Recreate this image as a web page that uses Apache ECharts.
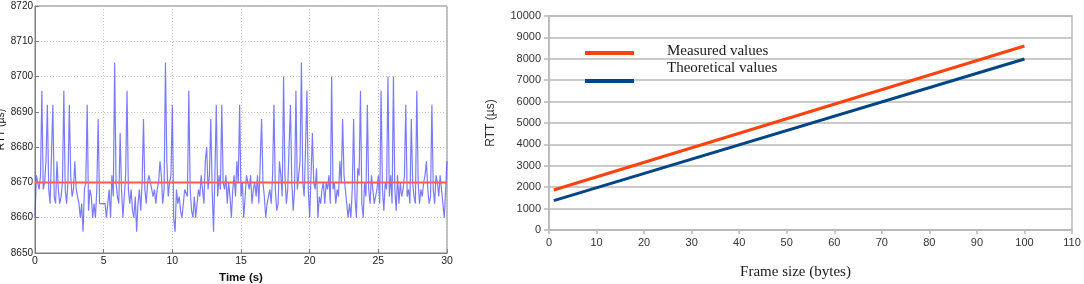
<!DOCTYPE html>
<html><head><meta charset="utf-8">
<script src="https://cdn.jsdelivr.net/npm/echarts@6/dist/echarts.min.js"></script>
<style>html,body{margin:0;padding:0;background:#fff}#c{width:1084px;height:284px}</style>
</head><body><div id="c"></div>
<script>
// ---- Left chart data: RTT samples every 0.1 s over 30 s ----
const sampleStep = 0.1;
const rttSamples = [
  8660,8672,8670,8668,8672,8696,8668,8670,8676,8692,
  8668,8664,8678,8692,8666,8664,8676,8668,8664,8666,
  8670,8696,8668,8664,8670,8692,8672,8666,8668,8676,
  8668,8666,8664,8660,8664,8656,8668,8670,8692,8662,
  8668,8666,8660,8664,8660,8668,8688,8664,8664,8664,
  8664,8664,8660,8664,8668,8660,8672,8666,8704,8670,
  8666,8664,8684,8668,8660,8666,8672,8696,8668,8664,
  8668,8662,8660,8666,8656,8664,8668,8662,8670,8688,
  8668,8664,8670,8672,8672,8668,8666,8668,8664,8668,
  8670,8676,8672,8664,8668,8704,8676,8666,8670,8672,
  8692,8660,8656,8668,8664,8666,8662,8660,8664,8668,
  8668,8666,8696,8668,8662,8660,8666,8660,8664,8668,
  8666,8672,8668,8664,8676,8680,8668,8672,8688,8668,
  8656,8672,8692,8666,8672,8668,8692,8670,8668,8672,
  8664,8670,8666,8660,8668,8672,8666,8676,8670,8692,
  8666,8670,8660,8666,8672,8670,8668,8672,8664,8668,
  8670,8666,8672,8664,8676,8688,8670,8666,8660,8664,
  8666,8668,8664,8672,8692,8668,8662,8664,8676,8672,
  8666,8700,8672,8664,8668,8680,8692,8670,8662,8668,
  8696,8668,8672,8676,8704,8670,8666,8680,8696,8668,
  8660,8672,8684,8670,8668,8674,8660,8666,8664,8668,
  8670,8664,8670,8668,8672,8664,8700,8668,8670,8664,
  8668,8666,8676,8670,8688,8672,8668,8664,8660,8664,
  8660,8668,8688,8666,8660,8674,8672,8696,8664,8660,
  8670,8666,8692,8668,8664,8672,8668,8664,8666,8668,
  8672,8664,8696,8668,8662,8670,8668,8700,8666,8672,
  8664,8700,8668,8662,8672,8664,8670,8666,8668,8672,
  8692,8666,8668,8664,8688,8670,8666,8664,8696,8670,
  8664,8668,8666,8670,8672,8676,8668,8664,8666,8692,
  8668,8664,8672,8670,8666,8672,8668,8664,8660,8660,
  8676
];
const meanRtt = 8670;
const timeRange = [0, 30];

// ---- Right chart data ----
const frameSizes = [1, 100];
const measuredValues = [1870, 8600];
const theoreticalValues = [1370, 7990];
const seriesNames = ['Measured values', 'Theoretical values'];

const rttPoints = rttSamples.map((v, i) => [+(i * sampleStep).toFixed(1), v]);
const meanPoints = timeRange.map(t => [t, meanRtt]);
const measuredPoints = frameSizes.map((x, i) => [x, measuredValues[i]]);
const theoreticalPoints = frameSizes.map((x, i) => [x, theoreticalValues[i]]);

const chart = echarts.init(document.getElementById('c'), null, {renderer: 'canvas'});
const sans = 'Liberation Sans, Arial, sans-serif';
const serif = 'Liberation Serif, DejaVu Serif, serif';
const plain = v => String(v);

chart.setOption({
  animation: false,
  backgroundColor: '#fff',
  grid: [
    {left: 35, right: 637, top: 6, bottom: 31, show: true, borderColor: '#7f7f7f', borderWidth: 1,
     backgroundColor: 'transparent', containLabel: false, outerBoundsMode: 'none'},
    {left: 549, right: 12, top: 16, bottom: 54, show: true, borderColor: '#b8b8b8', borderWidth: 1.5,
     backgroundColor: 'transparent', containLabel: false, outerBoundsMode: 'none'}
  ],
  legend: [
    // line samples only
    {data: seriesNames, left: 580, top: 46, orient: 'vertical', icon: 'rect', itemWidth: 49, itemHeight: 4,
     itemGap: 24, formatter: () => '', textStyle: {fontSize: 1, lineHeight: 1}},
    // texts only
    {data: seriesNames, left: 657, top: 38, orient: 'vertical', icon: 'none', itemWidth: 0, itemHeight: 4,
     itemGap: 0, textStyle: {fontFamily: serif, fontSize: 15, lineHeight: 17, color: '#1a1a1a'}}
  ],
  xAxis: [
    {gridIndex: 0, type: 'value', min: 0, max: 30, interval: 5,
     name: 'Time (s)', nameLocation: 'middle', nameGap: 15,
     nameTextStyle: {fontFamily: sans, fontSize: 11.5, color: '#111', fontWeight: 'bold'},
     axisLine: {lineStyle: {color: '#7f7f7f'}},
     axisTick: {inside: true, length: 4, lineStyle: {color: '#7f7f7f'}},
     axisLabel: {fontFamily: sans, fontSize: 10.5, color: '#222', margin: 3, formatter: plain},
     splitLine: {show: true, lineStyle: {color: '#c8c8c8', type: [1, 2], width: 1}}},
    {gridIndex: 1, type: 'value', min: 0, max: 110, interval: 10,
     name: 'Frame size (bytes)', nameLocation: 'middle', nameGap: 35,
     nameTextStyle: {fontFamily: serif, fontSize: 15, color: '#1a1a1a', padding: [0, 30, 0, 0]},
     axisLine: {lineStyle: {color: '#b8b8b8', width: 1.5}},
     axisTick: {show: true, length: 4, lineStyle: {color: '#b8b8b8', width: 1.5}},
     axisLabel: {fontFamily: sans, fontSize: 11, color: '#333', margin: 7, formatter: plain},
     splitLine: {show: false}}
  ],
  yAxis: [
    {gridIndex: 0, type: 'value', min: 8650, max: 8720, interval: 10,
     name: 'RTT (µs)', nameLocation: 'middle', nameGap: 28,
     nameTextStyle: {fontFamily: sans, fontSize: 10.5, color: '#111'},
     axisLine: {show: true, lineStyle: {color: '#7f7f7f'}},
     axisTick: {show: true, inside: true, length: 4, lineStyle: {color: '#7f7f7f'}},
     axisLabel: {fontFamily: sans, fontSize: 10, color: '#222', margin: 2, formatter: plain},
     splitLine: {show: true, lineStyle: {color: '#c8c8c8', type: [1, 2], width: 1}}},
    {gridIndex: 1, type: 'value', min: 0, max: 10000, interval: 1000,
     name: 'RTT (µs)', nameLocation: 'middle', nameGap: 52,
     nameTextStyle: {fontFamily: sans, fontSize: 12, color: '#333'},
     axisLine: {show: true, lineStyle: {color: '#b8b8b8', width: 1.5}},
     axisTick: {show: true, length: 5, lineStyle: {color: '#b8b8b8', width: 1.5}},
     axisLabel: {fontFamily: sans, fontSize: 11, color: '#333', margin: 8, formatter: plain},
     splitLine: {show: true, lineStyle: {color: '#b8b8b8', width: 1.5}}}
  ],
  series: [
    {name: 'RTT', type: 'line', xAxisIndex: 0, yAxisIndex: 0, data: rttPoints, showSymbol: false,
     lineStyle: {color: 'rgba(60,60,255,0.68)', width: 1.2}, z: 2},
    {name: 'Mean', type: 'line', xAxisIndex: 0, yAxisIndex: 0, data: meanPoints, showSymbol: false,
     lineStyle: {color: '#ff5a5a', width: 2}, z: 3},
    {name: seriesNames[0], type: 'line', xAxisIndex: 1, yAxisIndex: 1, data: measuredPoints, showSymbol: false,
     color: '#ff420e', lineStyle: {color: '#ff420e', width: 3}},
    {name: seriesNames[1], type: 'line', xAxisIndex: 1, yAxisIndex: 1, data: theoreticalPoints, showSymbol: false,
     color: '#004586', lineStyle: {color: '#004586', width: 3}}
  ]
});
</script></body></html>
